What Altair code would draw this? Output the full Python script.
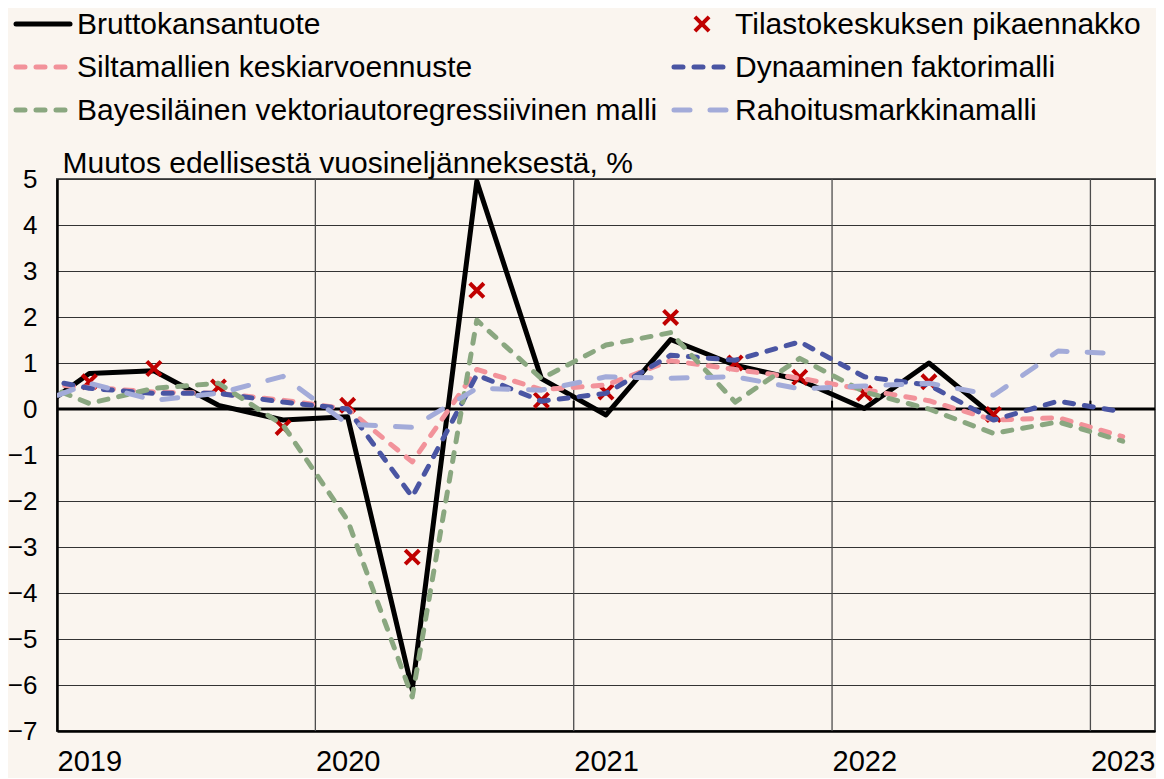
import altair as alt
import pandas as pd

# ---------------- data ----------------
# first entry (2018Q4) lies just left of the plot and is clipped; it only
# shapes the segment that enters from the left edge
quarters = ["2018Q4",
            "2019Q1", "2019Q2", "2019Q3", "2019Q4",
            "2020Q1", "2020Q2", "2020Q3", "2020Q4",
            "2021Q1", "2021Q2", "2021Q3", "2021Q4",
            "2022Q1", "2022Q2", "2022Q3", "2022Q4",
            "2023Q1"]

bkt = [-0.23, 0.77, 0.83, 0.08, -0.24, -0.17, -6.10, 4.95, 0.66,
       -0.13, 1.51, 0.95, 0.63, 0.01, 1.00, -0.15, None, None]
pika = [None, 0.59, 0.88, 0.48, -0.40, 0.08, -3.22, 2.58, 0.19,
        0.37, 1.99, 1.00, 0.69, 0.34, 0.59, -0.12, None, None]
silta = [0.57, 0.47, 0.37, 0.34, 0.19, 0.00, -1.15, 0.86, 0.42,
         0.52, 1.05, 0.86, 0.67, 0.42, 0.18, -0.24, -0.19, -0.60]
dfm = [0.73, 0.45, 0.34, 0.34, 0.15, 0.00, -1.91, 0.74, 0.17,
       0.34, 1.17, 1.06, 1.46, 0.70, 0.52, -0.24, 0.17, -0.06]
bvar = [0.70, 0.12, 0.45, 0.56, -0.35, -2.42, -6.26, 1.93, 0.66,
        1.39, 1.66, 0.15, 1.10, 0.37, 0.00, -0.53, -0.28, -0.70]
rahoitus = [0.02, 0.56, 0.19, 0.34, 0.71, -0.33, -0.40, 0.45, 0.41,
            0.70, 0.67, 0.70, 0.44, 0.50, 0.56, 0.30, 1.26, 1.20]

names = ["Bruttokansantuote",
         "Tilastokeskuksen pikaennakko",
         "Siltamallien keskiarvoennuste",
         "Dynaaminen faktorimalli",
         "Bayesiläinen vektoriautoregressiivinen malli",
         "Rahoitusmarkkinamalli"]
series_values = [bkt, pika, silta, dfm, bvar, rahoitus]

y_ticks = list(range(-7, 6))
y_title = "Muutos edellisestä vuosineljänneksestä, %"

# ---------------- styles ----------------
FONT = "Liberation Sans"
FS = 30
BG = "#faf5ef"
styles = {
    "Bruttokansantuote": dict(kind="line", color="#000000", dash=None, width=5),
    "Tilastokeskuksen pikaennakko": dict(kind="point", color="#c00000"),
    "Siltamallien keskiarvoennuste": dict(kind="line", color="#f2929a", dash=[9, 11], width=5),
    "Dynaaminen faktorimalli": dict(kind="line", color="#4a55a3", dash=[9, 11], width=5),
    "Bayesiläinen vektoriautoregressiivinen malli": dict(kind="line", color="#8aa780", dash=[9, 11], width=5),
    "Rahoitusmarkkinamalli": dict(kind="line", color="#a3abd9", dash=[16, 20], width=5),
}
XMARK = "M-1,-1L1,1M1,-1L-1,1"

# ---------------- scales / axes ----------------
n = len(quarters)
q1_idx = [i for i, q in enumerate(quarters) if q.endswith("Q1")]
year_bounds = [i - 0.5 for i in q1_idx if i > 1]

x_scale = alt.Scale(domain=[0.5, n - 0.5], nice=False, zero=False)
y_scale = alt.Scale(domain=[y_ticks[0], y_ticks[-1]], nice=False, zero=False)

x_axis = alt.Axis(values=q1_idx, labelExpr="'' + (2019 + (datum.value - 1) / 4)",
                  grid=False, ticks=False, title=None, labelPadding=16,
                  labelFontSize=29, labelFont=FONT, labelColor="black",
                  domainColor="black", domainWidth=2.5, labelFlush=False)
y_axis = alt.Axis(values=y_ticks, grid=True, gridColor="#333333", gridWidth=1.2,
                  ticks=False, labelPadding=20, labelFontSize=26, labelFont=FONT,
                  labelColor="black", domainColor="black", domainWidth=2.5,
                  title=y_title, titleAngle=0, titleAlign="left", titleX=5, titleY=-7,
                  titleBaseline="alphabetic", titleFontSize=FS, titleFont=FONT,
                  titleFontWeight="normal", titleColor="black")

X = alt.X("t:Q", scale=x_scale, axis=x_axis)
Y = alt.Y("value:Q", scale=y_scale, axis=y_axis)

layers = []

# vertical year gridlines
grid_df = pd.DataFrame({"t": year_bounds})
layers.append(alt.Chart(grid_df).mark_rule(color="#4d4d4d", strokeWidth=1.3).encode(x=X))
# zero line with small upward ticks at year boundaries
layers.append(alt.Chart(pd.DataFrame({"value": [0]})).mark_rule(color="black", strokeWidth=3).encode(y=Y))
layers.append(alt.Chart(grid_df).mark_rule(color="black", strokeWidth=2)
              .encode(x=X, y=alt.datum(0, scale=y_scale), y2=alt.datum(0.18)))

# data series
for name, vals in zip(names, series_values):
    st = styles[name]
    d = pd.DataFrame({"t": range(n), "quarter": quarters, "value": vals}).dropna()
    if st["kind"] == "line":
        kw = dict(color=st["color"], strokeWidth=st["width"], interpolate="linear",
                  strokeCap="round", strokeJoin="round", clip=True)
        if st["dash"]:
            kw["strokeDash"] = st["dash"]
        layers.append(alt.Chart(d).mark_line(**kw).encode(x=X, y=Y))
    else:
        layers.append(alt.Chart(d).mark_point(shape=XMARK, size=200, strokeWidth=4,
                                              color=st["color"], filled=False, opacity=1)
                      .encode(x=X, y=Y))

# legend (two columns, three rows, above the plot)
for k, name in enumerate(names):
    st = styles[name]
    col, row = k % 2, k // 2
    x0 = -43 + col * 658
    ly = -155 + row * 43
    one = alt.Chart(pd.DataFrame({"name": [name]}))
    if st["kind"] == "line":
        kw = dict(color=st["color"], strokeWidth=st["width"], strokeCap="round")
        if st["dash"]:
            kw["strokeDash"] = st["dash"]
        layers.append(one.mark_rule(**kw).encode(
            x=alt.value(x0 + 2), x2=alt.value(x0 + 56), y=alt.value(ly)))
    else:
        layers.append(one.mark_point(shape=XMARK, size=200, strokeWidth=4,
                                     color=st["color"], filled=False, opacity=1)
                      .encode(x=alt.value(x0 + 30), y=alt.value(ly)))
    layers.append(one.mark_text(align="left", baseline="alphabetic", font=FONT,
                                fontSize=FS, color="black")
                  .encode(x=alt.value(x0 + 63), y=alt.value(ly + 10), text="name:N"))

chart = (alt.layer(*layers)
         .properties(width=1098, height=552, background=BG,
                     padding={"left": 49, "top": 171, "right": 1, "bottom": 47},
                     autosize=alt.AutoSizeParams(type="none"))
         .configure_view(stroke="#555555", strokeWidth=2))

chart.save("out.html", embed_options={"renderer": "svg", "actions": False})
